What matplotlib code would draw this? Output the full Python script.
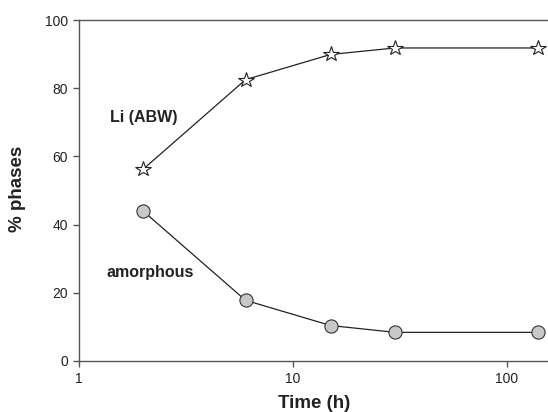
import matplotlib.pyplot as plt
from matplotlib.ticker import FixedLocator, NullLocator

plt.rcParams['font.family'] = ['Liberation Sans', 'DejaVu Sans']

# data
time_h = [2, 6, 15, 30, 140]
li_abw = [56.3, 82.5, 89.9, 91.8, 91.8]
amorphous = [43.9, 17.8, 10.4, 8.4, 8.4]

fig = plt.figure(figsize=(5.48, 4.12), dpi=100)
ax = fig.add_axes([79/548, 51/412, 1 - 79/548, 341/412])

ax.plot(time_h, li_abw, color='#222222', lw=0.9, marker='*', ms=11.5,
        mfc='white', mec='#222222', mew=0.8, zorder=3)
ax.plot(time_h, amorphous, color='#222222', lw=0.9, marker='o', ms=9.5,
        mfc='#c8c8c8', mec='#333333', mew=0.8, zorder=3)

ax.set_xscale('log')
ax.set_xlim(1, 10 ** (469 / 214))
ax.set_ylim(0, 100)
ax.xaxis.set_major_locator(FixedLocator([1, 10, 100]))
ax.xaxis.set_minor_locator(NullLocator())
ax.set_xticklabels(['1', '10', '100'])
ax.set_yticks([0, 20, 40, 60, 80, 100])

for s in ['left', 'bottom', 'top']:
    ax.spines[s].set_color('#555555')
    ax.spines[s].set_linewidth(1.0)
ax.spines['right'].set_visible(False)
ax.tick_params(direction='out', length=4, width=1, color='#555555',
               labelsize=10, labelcolor='#222222', pad=4)
ax.tick_params(axis='x', top=False)

ax.text(1.40, 71.5, 'Li (ABW)', fontsize=11.5, fontweight='bold',
        color='#222222', va='center', ha='left')
ax.text(1.35, 26, 'amorphous', fontsize=11.5, fontweight='bold',
        color='#222222', va='center', ha='left')

fig.text(314/548, 1 - 404/412, 'Time (h)', fontsize=13.5, fontweight='bold',
         color='#222222', ha='center', va='center')
fig.text(17/548, 1 - 189/412, '% phases', fontsize=13.5, fontweight='bold',
         color='#222222', ha='center', va='center', rotation=90)

fig.savefig('out.png', dpi=100)
